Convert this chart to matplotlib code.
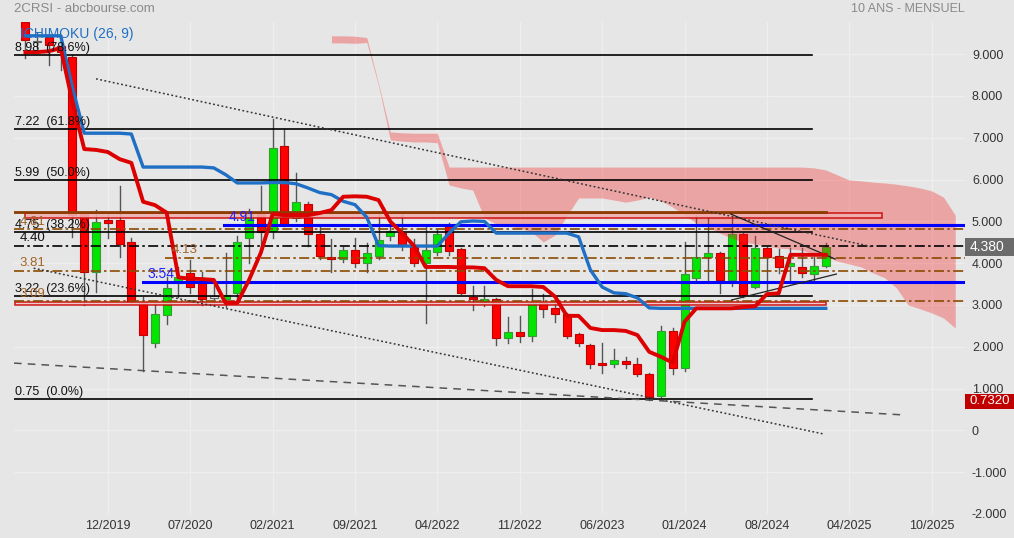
"""2CRSI monthly candles with ichimoku, fibonacci levels and trendlines"""
import matplotlib.pyplot as plt
from matplotlib.patches import Rectangle
import matplotlib.transforms as mtransforms

plt.rcParams['font.family'] = ['Liberation Sans', 'DejaVu Sans']

# monthly candles 05/2019 .. 01/2025
opens = [9.78, 9.28, 9.40, 9.20, 8.94, 5.20, 3.79, 5.03, 5.03, 4.50,
         3.07, 2.09, 2.76, 3.52, 3.76, 3.53, 3.17, 3.14, 3.29, 4.60,
         5.20, 4.78, 6.80, 5.09, 5.41, 4.70, 4.15, 4.10, 4.31, 4.00,
         4.17, 4.65, 4.72, 4.38, 4.00, 4.27, 4.89, 4.34, 3.19, 3.07,
         3.14, 2.20, 2.35, 2.27, 3.05, 2.92, 2.78, 2.30, 2.04, 1.62,
         1.59, 1.65, 1.60, 1.36, 0.83, 2.38, 1.49, 3.65, 4.15, 4.24,
         3.60, 4.70, 3.43, 4.36, 4.17, 3.93, 3.91, 3.74, 3.93]
highs = [9.80, 9.50, 9.42, 9.46, 8.98, 5.22, 5.27, 5.18, 5.85, 4.60,
         3.20, 3.05, 3.67, 3.91, 4.07, 3.80, 3.50, 4.24, 4.65, 5.30,
         5.85, 7.45, 7.20, 6.15, 5.46, 4.90, 4.58, 4.38, 4.60, 4.48,
         5.20, 4.97, 5.20, 4.58, 4.90, 4.80, 4.97, 4.36, 3.45, 3.45,
         3.16, 2.71, 2.73, 3.38, 3.26, 3.07, 2.80, 2.32, 2.07, 2.09,
         1.94, 1.76, 1.73, 1.38, 2.50, 2.45, 4.50, 5.15, 5.10, 4.26,
         5.10, 4.72, 4.65, 4.38, 4.33, 4.36, 4.36, 4.15, 4.48]
lows = [8.90, 9.15, 8.74, 8.62, 4.62, 3.00, 3.31, 4.60, 4.15, 3.05,
        1.42, 2.00, 2.55, 3.19, 3.29, 3.00, 3.00, 2.95, 3.07, 4.00,
        4.38, 4.60, 4.90, 5.00, 4.41, 4.10, 3.79, 4.03, 3.90, 3.79,
        4.10, 4.55, 4.31, 3.93, 2.58, 4.20, 4.20, 3.26, 2.88, 2.97,
        2.04, 2.10, 2.11, 2.13, 2.71, 2.59, 2.22, 2.02, 1.49, 1.37,
        1.52, 1.50, 1.30, 0.732, 0.80, 1.35, 1.42, 3.55, 3.55, 3.28,
        3.45, 3.20, 3.40, 3.36, 3.77, 3.52, 3.67, 3.60, 3.90]
closes = [9.34, 9.28, 9.22, 9.05, 5.15, 3.80, 4.98, 4.97, 4.45, 3.07,
          2.28, 2.78, 3.41, 3.67, 3.43, 3.14, 3.17, 3.23, 4.50, 5.17,
          4.75, 6.75, 4.94, 5.46, 4.70, 4.17, 4.10, 4.31, 4.00, 4.24,
          4.55, 4.77, 4.43, 4.00, 4.31, 4.70, 4.29, 3.28, 3.14, 3.14,
          2.20, 2.35, 2.27, 3.05, 2.90, 2.78, 2.27, 2.09, 1.60, 1.57,
          1.68, 1.59, 1.34, 0.80, 2.38, 1.49, 3.74, 4.15, 4.24, 3.60,
          4.70, 3.25, 4.36, 4.15, 3.91, 4.00, 3.77, 3.93, 4.38]

# ichimoku lines
tenkan = [9.05, 9.05, 9.07, 9.15, 7.85, 6.73, 6.71, 6.66, 6.49, 6.40,
          5.47, 5.39, 5.21, 3.66, 3.63, 3.62, 3.60, 3.05, 3.05, 3.60,
          4.25, 5.17, 5.15, 5.15, 5.15, 5.20, 5.27, 5.59, 5.60, 5.59,
          5.51, 5.00, 4.72, 4.42, 3.91, 3.91, 3.91, 3.90, 3.90, 3.88,
          3.60, 3.45, 3.45, 3.45, 3.43, 3.20, 2.74, 2.74, 2.45, 2.40,
          2.40, 2.38, 2.28, 1.88, 1.76, 1.62, 2.60, 2.92, 2.92, 2.92,
          2.92, 2.95, 2.97, 3.26, 3.28, 4.20, 4.20, 4.20, 4.20]
kijun = [9.44, 9.44, 9.44, 9.44, 8.20, 7.11, 7.11, 7.11, 7.11, 7.09,
         6.30, 6.30, 6.30, 6.30, 6.30, 6.30, 6.28, 6.12, 5.92, 5.92,
         5.92, 5.93, 5.93, 5.90, 5.80, 5.69, 5.64, 5.48, 5.40, 5.10,
         4.42, 4.41, 4.41, 4.41, 4.41, 4.41, 4.72, 4.99, 5.01, 5.00,
         4.72, 4.72, 4.72, 4.72, 4.72, 4.72, 4.72, 4.63, 3.84, 3.43,
         3.29, 3.27, 3.17, 2.93, 2.92, 2.92, 2.92, 2.92, 2.92, 2.92,
         2.92, 2.92, 2.92, 2.92, 2.92, 2.92, 2.92, 2.92, 2.92]

# cloud (shifted forward), from month index 26 to 79
cloud_start = 26
cloud_upper = [9.44, 9.44, 9.43, 9.40, 8.30, 7.14, 7.12, 7.11, 7.11, 7.11,
               6.30, 6.30, 6.30, 6.30, 6.30, 6.30, 6.30, 6.30, 6.30, 6.30,
               6.30, 6.30, 6.30, 6.30, 6.30, 6.30, 6.30, 6.30, 6.30, 6.30,
               6.30, 6.30, 6.30, 6.30, 6.30, 6.30, 6.30, 6.30, 6.30, 6.30,
               6.30, 6.28, 6.23, 6.11, 5.99, 5.97, 5.94, 5.92, 5.89, 5.85,
               5.80, 5.73, 5.58, 5.15]
cloud_lower = [9.27, 9.27, 9.26, 9.28, 8.25, 6.95, 6.92, 6.90, 6.90, 6.88,
               5.87, 5.80, 5.75, 5.08, 4.94, 4.89, 4.84, 4.75, 4.51, 4.67,
               5.13, 5.56, 5.56, 5.56, 5.51, 5.46, 5.51, 5.58, 5.49, 5.34,
               5.15, 4.96, 4.87, 4.72, 4.60, 4.51, 4.46, 4.41, 4.36, 4.34,
               4.31, 4.22, 4.15, 4.05, 3.98, 3.91, 3.77, 3.65, 3.41, 3.00,
               2.91, 2.81, 2.69, 2.45]

# fibonacci retracement
fib_levels = [8.98, 7.22, 5.99, 4.75, 3.22, 0.75]
fib_pcts = ['78.6%', '61.8%', '50.0%', '38.2%', '23.6%', '0.0%']

# other levels: (value, label, start index)
brown_levels = [(4.81, '4.81', None), (4.13, '4.13', 11.9), (3.81, '3.81', None), (3.09, '3.09', None)]
blue_levels = [(4.91, '4.91', 16.9), (3.54, '3.54', 10.0)]
black_level = 4.40
zones = [(5.08, 5.20), (2.99, 3.08)]

# trendlines: (i0, v0, i1, v1)
trend_dotted = [(6.0, 8.41, 72.0, 4.39), (0.7, 3.88, 67.9, -0.09)]
trend_dashed = (-0.97, 1.61, 74.6, 0.37)
trend_solid = [(59.9, 5.18, 68.8, 4.10), (60.0, 3.12, 68.9, 3.74)]

tick_pos = [7, 14, 21, 28, 35, 42, 49, 56, 63, 70, 77]
tick_labels = ['12/2019', '07/2020', '02/2021', '09/2021', '04/2022', '11/2022',
               '06/2023', '01/2024', '08/2024', '04/2025', '10/2025']

last_price = 4.38
low_price = 0.732

bg = '#e6e6e6'
x0, x1 = -0.97, 79.83
fig = plt.figure(figsize=(10.14, 5.38), dpi=100, facecolor=bg)
ax = fig.add_axes([14 / 1014, 24 / 538, 951 / 1014, 492 / 538], facecolor=bg)
ax.set_xlim(x0, x1)
ax.set_ylim(-2.0, 9.77)

# grid
ax.set_xticks(tick_pos)
ax.set_xticklabels(tick_labels)
ax.set_yticks(range(-2, 10))
ax.set_yticklabels(['0' if v == 0 else f'{v:.3f}' for v in range(-2, 10)])
ax.grid(True, color='#eeeeee', lw=0.9, zorder=0)
ax.yaxis.tick_right()
ax.tick_params(length=0, labelsize=9, colors='#333333')
ax.tick_params(axis='y', pad=5)
ax.tick_params(axis='x', pad=4)
for s in ax.spines.values():
    s.set_visible(False)

# candles
w = 0.68
for i in range(len(opens)):
    o, h, l, c = opens[i], highs[i], lows[i], closes[i]
    ax.plot([i, i], [l, h], color='#555555', lw=1, zorder=2)
    if abs(c - o) < 0.02:
        fc, ec = '#f2f2f2', '#666666'
    elif c > o:
        fc, ec = '#00e600', '#3a9a3a'
    else:
        fc, ec = '#ff0000', '#c00000'
    bot = min(o, c)
    hgt = max(abs(c - o), 0.04)
    ax.add_patch(Rectangle((i - w / 2, bot), w, hgt, fc=fc, ec=ec, lw=0.8, zorder=3))

# cloud
cx = list(range(cloud_start, cloud_start + len(cloud_upper)))
ax.fill_between(cx, cloud_lower, cloud_upper, color='#f52020', alpha=0.33, lw=0, zorder=4)

# zones
for lo, hi in zones:
    if lo > 4:
        ax.add_patch(Rectangle((0, lo), 72.8, hi - lo, fc='#f0b0b0', ec='#cc0000', lw=1.1, alpha=0.9, zorder=5))
    else:
        ax.add_patch(Rectangle((x0 + 0.05, lo), 68.0 - x0, hi - lo, fc='#f0c8c8', ec='#cc0000', lw=1.1, alpha=0.9, zorder=5))
ax.plot([x0, 68.0], [5.22, 5.22], color='#8c3c00', lw=2, zorder=5)

# fibonacci
for lev, pct in zip(fib_levels, fib_pcts):
    ax.plot([x0, 66.8], [lev, lev], color='black', lw=1.2, zorder=6)
    ax.text(x0 + 0.05, lev + 0.02, f'{lev:.2f}  ({pct})', fontsize=9, color='#111111',
            va='bottom', ha='left', zorder=9)

# brown dash-dot levels
for lev, lab, start in brown_levels:
    s = x0 if start is None else start
    ax.plot([s, x1], [lev, lev], color='#8b4a00', lw=1.2, ls=(0, (6, 2, 1.5, 2)), zorder=6)
    tx = x0 + 0.5 if start is None else start + 0.5
    ax.text(tx, lev + 0.04, lab, fontsize=9.5, color='#a0642a', va='bottom', ha='left', zorder=9)

# black dash-dot level
ax.plot([x0, x1], [black_level, black_level], color='black', lw=1.2,
        ls=(0, (6, 2, 1.5, 2)), zorder=6)
ax.text(x0 + 0.45, black_level + 0.07, f'{black_level:.2f}', fontsize=9.5, color='#111111',
        va='bottom', ha='left', zorder=9)

# blue levels
for lev, lab, start in blue_levels:
    ax.plot([start, x1], [lev, lev], color='#0000ff', lw=2.2, zorder=6)
    ax.text(start + 0.4, lev + 0.03, lab, fontsize=10, color='#2020ff', va='bottom', ha='left', zorder=9)

# trendlines
for a, b, c, d in trend_dotted:
    ax.plot([a, c], [b, d], color='#333333', lw=1.1, ls=(0, (1.2, 1.6)), zorder=6)
a, b, c, d = trend_dashed
ax.plot([a, c], [b, d], color='#555555', lw=1.1, ls=(0, (5, 4)), zorder=6)
for a, b, c, d in trend_solid:
    ax.plot([a, c], [b, d], color='#222222', lw=0.9, zorder=6)

# ichimoku lines
ax.plot(range(len(kijun)), kijun, color='#1f6fc5', lw=2.4, zorder=7, solid_joinstyle='round')
ax.plot(range(len(tenkan)), tenkan, color='#dd0000', lw=2.8, zorder=8, solid_joinstyle='round')

# price tags on the right axis
trans = mtransforms.blended_transform_factory(ax.transAxes, ax.transData)
for price, txt, col, hpx, fs, dy in [(last_price, f'{last_price:.3f}', '#6b6b6b', 18, 10, 0),
                                     (low_price, f'{low_price:.4f}', '#c00000', 15, 9.5, -0.03)]:
    hv = hpx / 41.8
    ax.add_patch(Rectangle((1.0, price + dy - hv / 2), 49 / 951, hv, transform=trans,
                           fc=col, ec='none', clip_on=False, zorder=10))
    ax.text(1.005, price + dy, txt, transform=trans, fontsize=fs, color='white',
            va='center', ha='left', clip_on=False, zorder=11)

# header texts
fig.text(14 / 1014, 1 - 9 / 538, '2CRSI - abcbourse.com', fontsize=9.5, color='#8a8a8a',
         va='center', ha='left')
fig.text(965 / 1014, 1 - 9 / 538, '10 ANS - MENSUEL', fontsize=9, color='#8a8a8a',
         va='center', ha='right')
ax.text(x0 + 0.5, 9.48, 'ICHIMOKU (26, 9)', fontsize=10, color='#1f6fc5',
        va='center', ha='left', zorder=10)

fig.savefig('out.png', dpi=100, facecolor=bg)
